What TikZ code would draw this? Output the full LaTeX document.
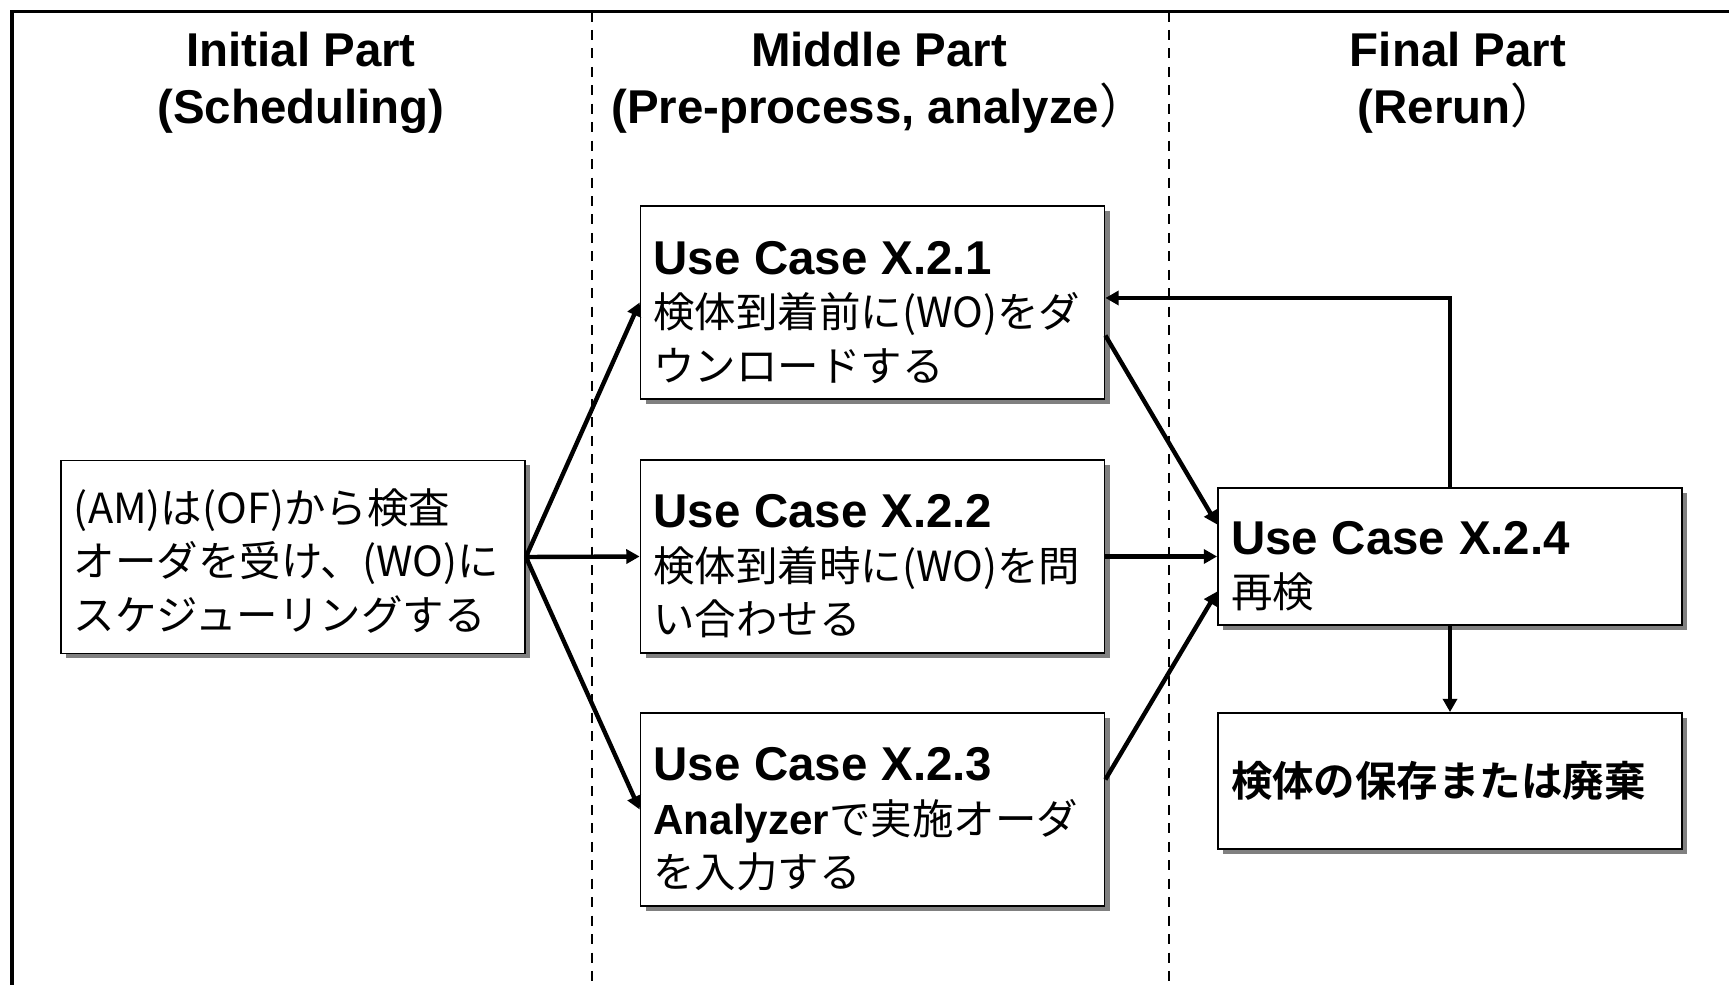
\documentclass[tikz,border=0pt]{standalone}
\usepackage{fontspec}
\setmainfont{Liberation Sans}
\newfontfamily\jp{Noto Sans CJK JP}[BoldFont={Noto Sans CJK JP Bold}]
\usetikzlibrary{arrows.meta,shadows}
\newcommand{\ucname}[1]{{\normalfont\bfseries\fontsize{13.5}{15.2}\selectfont\rule{0pt}{15pt}Use Case #1}}
\newcommand{\fwparen}{{\jp\mdseries ）}}
\begin{document}
\begin{tikzpicture}[
    box/.style={draw, line width=0.5pt, fill=white, inner xsep=0.13cm,
      text width=4.38cm, align=left, minimum height=1.93cm,
      drop shadow={shadow xshift=0.05cm, shadow yshift=-0.05cm,
        fill=black!50, opacity=1},
      font=\jp\fontsize{11.8}{15.2}\selectfont},
    part/.style={align=center, font=\bfseries\fontsize{13.5}{16.2}\selectfont},
    flow/.style={line width=1.25pt, -{Triangle[length=3.8pt,width=4pt]}},
  ]
  \useasboundingbox (0,0) rectangle (17.29,-9.85);
  % frame and column separators
  \draw[line width=1.1pt] (0.12,-9.9) -- (0.12,-0.115) -- (17.4,-0.115);
  \draw[line width=0.75pt, dash pattern=on 2.85pt off 2.4pt]
    (5.92,-0.115) -- (5.92,-9.9)
    (11.69,-0.115) -- (11.69,-9.9);
  \draw
    (3.01,-0.83) node[part] (initial) {Initial Part\\(Scheduling)}
    (8.79,-0.83) node[part] (middle) {Middle Part\\(Pre-process, analyze\fwparen}
    (14.58,-0.83) node[part] (final) {Final Part\\(Rerun\fwparen};
  \draw
    (2.93,-5.57) node[box] (sched) {\rule{0pt}{12pt}(AM)は(OF)から検査\\オーダを受け、(WO)に\\スケジューリングする}
    (8.725,-3.025) node[box] (uc1) {\ucname{X.2.1}\\検体到着前に(WO)をダ\\ウンロードする}
    (8.725,-5.565) node[box] (uc2) {\ucname{X.2.2}\\検体到着時に(WO)を問\\い合わせる}
    (8.725,-8.095) node[box] (uc3) {\ucname{X.2.3}\\{\normalfont\bfseries\fontsize{12}{15.2}\selectfont Analyzer}で実施オーダ\\を入力する}
    (14.50,-5.565) node[box, minimum height=1.37cm] (uc4) {\ucname{X.2.4}\\再検}
    (14.50,-7.81) node[box, minimum height=1.36cm] (store) {\bfseries 検体の保存または廃棄};
  \begin{scope}[flow]
    \draw (sched.east) to (uc1.west);
    \draw (sched.east) to (uc2.west);
    \draw (sched.east) to (uc3.west);
    \draw ([yshift=-0.33cm]uc1.east) to ([yshift=0.32cm]uc4.west);
    \draw (uc2.east) to (uc4.west);
    \draw ([yshift=0.3cm]uc3.east) to ([yshift=-0.35cm]uc4.west);
    \draw (uc4.north) |- ([yshift=0.045cm]uc1.east);
    \draw (uc4.south) to (store.north);
  \end{scope}
\end{tikzpicture}
\end{document}
